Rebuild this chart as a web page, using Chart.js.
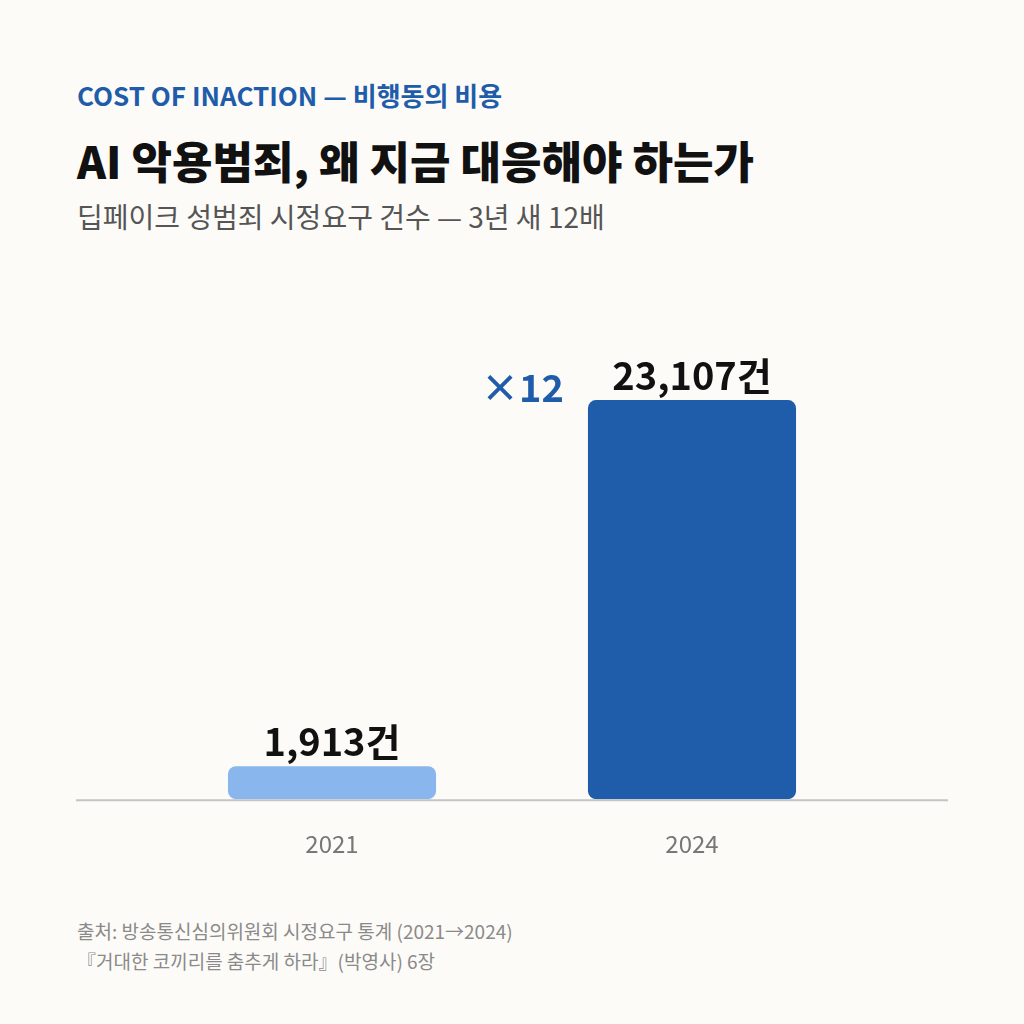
<!DOCTYPE html>
<html><head><meta charset="utf-8">
<script src="https://cdn.jsdelivr.net/npm/chart.js@4"></script>
<style>
body{margin:0;width:1024px;height:1024px;background:#fcfbf8;font-family:"Noto Sans CJK KR","Noto Sans",sans-serif;position:relative;overflow:hidden}
.t{position:absolute;left:77px;white-space:nowrap}
#k{top:76px;font-size:26px;font-weight:700;color:#1f5caa}
#h{top:128px;font-size:44px;font-weight:900;color:#111}
#s{top:196px;font-size:28px;color:#555}
#f{top:916px;font-size:19px;color:#8a8a8a;line-height:30px}
#wrap{position:absolute;left:0;top:300px;width:1024px;height:580px}
</style></head><body>
<div class="t" id="k">COST OF INACTION — 비행동의 비용</div>
<div class="t" id="h">AI 악용범죄, 왜 지금 대응해야 하는가</div>
<div class="t" id="s">딥페이크 성범죄 시정요구 건수 — 3년 새 12배</div>
<div class="t" id="f">출처: 방송통신심의위원회 시정요구 통계 (2021→2024)<br>『거대한 코끼리를 춤추게 하라』(박영사) 6장</div>
<div id="wrap"><canvas id="c"></canvas></div>
<script>
const categories=["2021","2024"];
const values=[1913,23107];
const valueLabels=["1,913건","23,107건"];
const ratioLabel="×12";
const deco={id:"deco",
 beforeDatasetsDraw(ch){const c=ch.ctx,y=ch.scales.y.getPixelForValue(0);c.save();c.strokeStyle="#c4c4c4";c.lineWidth=2;c.beginPath();c.moveTo(76,y+1);c.lineTo(948,y+1);c.stroke();c.restore();},
 afterDatasetsDraw(ch){const c=ch.ctx,m=ch.getDatasetMeta(0);c.save();c.textAlign="center";c.textBaseline="bottom";c.fillStyle="#111";c.font="700 38px 'Noto Sans CJK KR'";
 m.data.forEach((b,i)=>c.fillText(valueLabels[i],b.x,b.y-6));
 const b=m.data[1];c.textAlign="right";c.textBaseline="middle";c.fillStyle="#1f5caa";c.font="700 38px 'Noto Sans CJK KR'";c.fillText(ratioLabel,b.x-b.width/2-24,b.y-13);c.restore();}};
new Chart(document.getElementById("c"),{type:"bar",
data:{labels:categories,datasets:[{data:values,backgroundColor:["#8ab6ee","#1f5caa"],borderRadius:8,borderSkipped:false,barPercentage:0.578,categoryPercentage:1}]},
options:{responsive:true,maintainAspectRatio:false,animation:false,layout:{padding:{left:152,right:152,top:0,bottom:0}},
plugins:{legend:{display:false},tooltip:{enabled:false}},
scales:{y:{display:false,min:0,max:28900},x:{grid:{display:false},border:{display:false},ticks:{color:"#777",font:{size:24,family:"Noto Sans CJK KR"},padding:22}}}},
plugins:[deco]});
</script></body></html>
